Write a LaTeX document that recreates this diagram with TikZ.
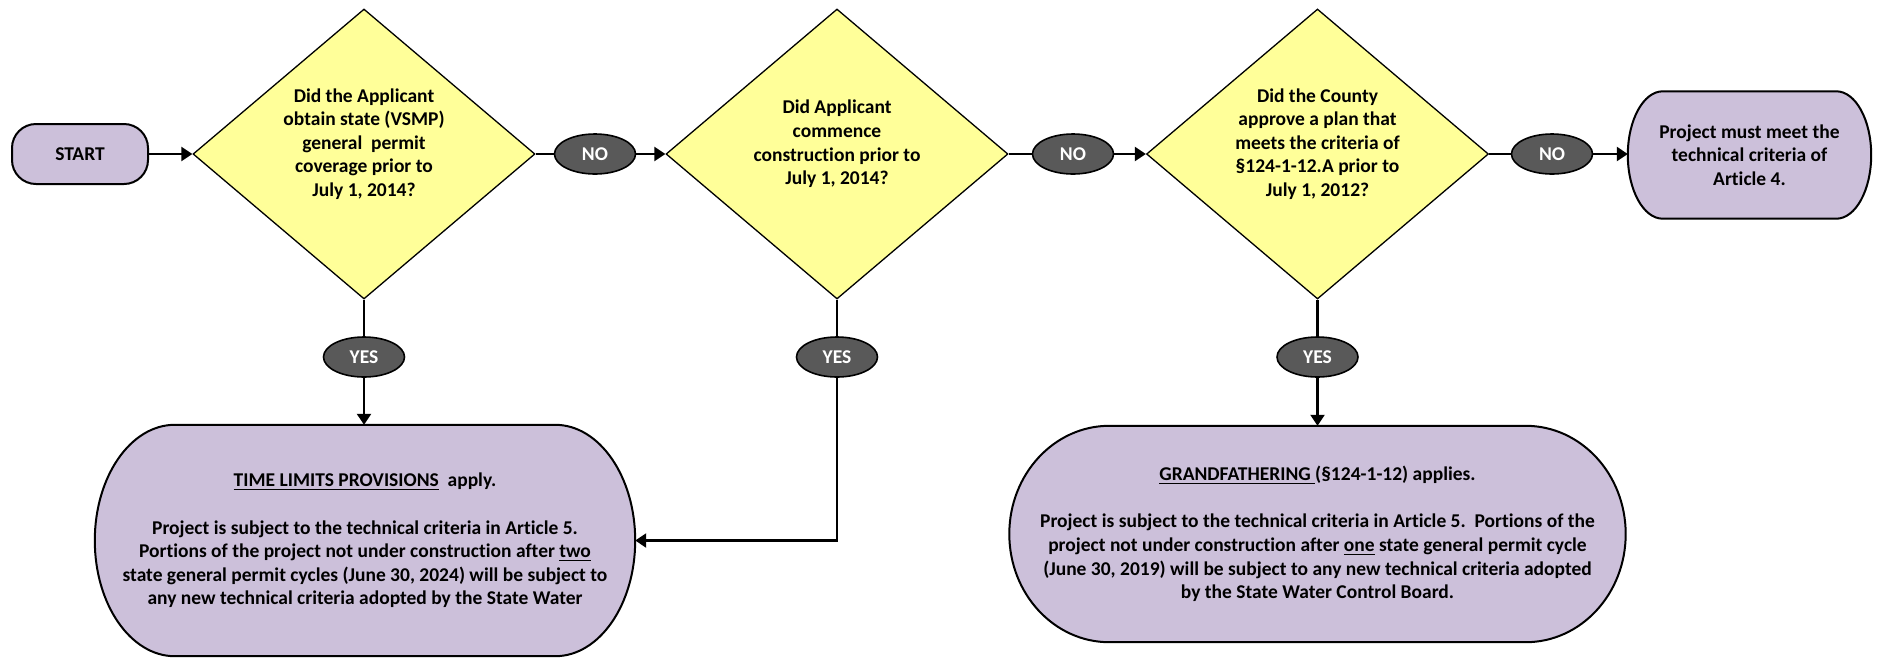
\documentclass[tikz,border=0pt]{standalone}
\usepackage{fontspec}
\setmainfont{Carlito}[Ligatures=NoCommon]
\usetikzlibrary{shapes.geometric,arrows.meta,calc,backgrounds}
\definecolor{qyellow}{HTML}{FFFF99}
\definecolor{tpurple}{HTML}{CCC0DA}
\definecolor{ovalgray}{HTML}{595959}
\newsavebox\ulbox
\newcommand\myul[1]{\sbox\ulbox{#1}\rlap{\rule[-3.4pt]{\wd\ulbox}{1.3pt}}\usebox\ulbox}
\newcommand\termoutline[2]{%
  \path let \p1=(#1.north west), \p2=(#1.south east), \n1={(\y1-\y2)/2} in
    [termshape] (\x1+#2,\y1) -- (\x2-#2,\y1)
    arc[start angle=90,end angle=-90,x radius=#2,y radius=\n1]
    -- (\x1+#2,\y2)
    arc[start angle=270,end angle=90,x radius=#2,y radius=\n1] -- cycle;}
\begin{document}
\begin{tikzpicture}[x=1pt,y=-1pt,
  every node/.style={font=\fontsize{19.5}{23.6}\selectfont\bfseries, align=center},
  startbox/.style={rectangle, rounded corners=24pt, draw=black, line width=2pt,
    fill=tpurple, minimum width=136pt, minimum height=60pt, inner sep=0pt},
  termbox/.style={rectangle, inner sep=0pt},
  termshape/.style={draw=black, line width=2pt, fill=tpurple},
  decision/.style={diamond, draw=black, line width=1.3pt, fill=qyellow,
    minimum width=342pt, minimum height=290pt, inner sep=0pt},
  qtext/.style={yshift=10pt},
  answer/.style={ellipse, draw=black, line width=1.6pt, fill=ovalgray, text=white,
    minimum width=81pt, minimum height=40pt, inner sep=0pt},
  conn/.style={line width=2.2pt},
  arr/.style={conn, -{Triangle[length=11pt,width=14pt]}}]
\useasboundingbox (0,0) rectangle (1877,657);

\node[startbox] (start) at (80,154) {START};
\node[decision, label={[qtext]center:{Did the Applicant\\obtain state (VSMP)\\general\ \ permit\\coverage prior to\\July 1, 2014?}}] (d1) at (364,154) {};
\node[answer] (no1) at (595,154) {NO};
\node[decision, label={[qtext]center:{Did Applicant\\commence\\construction prior to\\July 1, 2014?}}] (d2) at (837,154) {};
\node[answer] (no2) at (1073,154) {NO};
\node[decision, label={[qtext]center:{Did the County\\approve a plan that\\meets the criteria of\\§124-1-12.A prior to\\July 1, 2012?}}] (d3) at (1317.5,154) {};
\node[answer] (no3) at (1552,154) {NO};
\node[termbox, minimum width=243pt, minimum height=127pt] (art4) at (1749.5,155) {Project must meet the\\technical criteria of\\Article 4.};

\node[answer] (yes1) at (364,357) {YES};
\node[answer] (yes2) at (837,357) {YES};
\node[answer] (yes3) at (1317.5,357) {YES};

\node[termbox, minimum width=540pt, minimum height=231pt] (tl) at (365,540.5)
  {\myul{TIME LIMITS PROVISIONS}\ \ apply.\\[23.6pt]
   Project is subject to the technical criteria in Article 5.\\
   Portions of the project not under construction after \myul{two}\\
   state general permit cycles (June 30, 2024) will be subject to\\
   any new technical criteria adopted by the State Water};
\node[termbox, minimum width=616pt, minimum height=216pt] (gf) at (1317.5,534)
  {\myul{GRANDFATHERING\ }(§124-1-12) applies.\\[23.6pt]
   Project is subject to the technical criteria in Article 5.\ \ Portions of the\\
   project not under construction after \myul{one} state general permit cycle\\
   (June 30, 2019) will be subject to any new technical criteria adopted\\
   by the State Water Control Board.};

\begin{scope}[on background layer]
  \termoutline{art4}{35pt}
  \termoutline{tl}{80pt}
  \termoutline{gf}{100pt}
\end{scope}

\draw[arr] (start.east) -- (d1.west);
\draw[conn] (d1.east) -- (no1.west);
\draw[arr] (no1.east) -- (d2.west);
\draw[conn] (d2.east) -- (no2.west);
\draw[arr] (no2.east) -- (d3.west);
\draw[conn] (d3.east) -- (no3.west);
\draw[arr] (no3.east) -- (no3.east -| art4.west);

\draw[conn] (d1.south) -- (yes1.north);
\draw[arr] (yes1.south) -- (yes1.south |- tl.north);
\draw[conn] (d2.south) -- (yes2.north);
\draw[arr] (yes2.south) |- (tl.east);
\draw[conn] (d3.south) -- (yes3.north);
\draw[arr] (yes3.south) -- (gf.north);
\end{tikzpicture}
\end{document}
